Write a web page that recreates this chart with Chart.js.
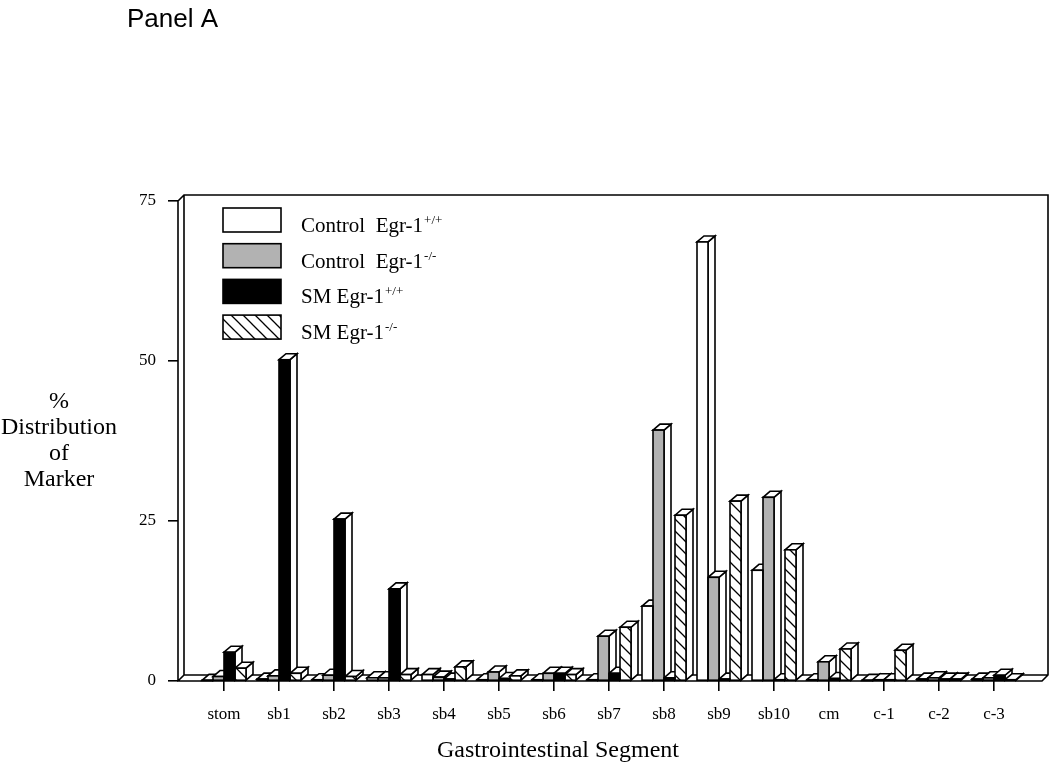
<!DOCTYPE html>
<html><head><meta charset="utf-8">
<script src="https://cdn.jsdelivr.net/npm/chart.js@4.4.1/dist/chart.umd.min.js"></script>
<style>html,body{margin:0;padding:0;background:#fff;}#wrap{width:1050px;height:767px;position:relative;}</style>
</head><body><div id="wrap"><canvas id="c" width="1050" height="767"></canvas></div>
<script>
// ---------- data ----------
const categories = ['stom','sb1','sb2','sb3','sb4','sb5','sb6','sb7','sb8','sb9','sb10','cm','c-1','c-2','c-3'];
const controlWT = [0.1, 0.3, 0.2, 0.5, 1.0, 0.2, 0.2, 0.2, 11.7, 68.6, 17.3, 0.2, 0.1, 0.3, 0.3];
const controlKO = [0.7, 0.8, 0.9, 0.5, 0.6, 1.4, 1.2, 7.0, 39.2, 16.2, 28.7, 3.0, 0.2, 0.5, 0.5];
const smWT      = [4.5, 50.2, 25.3, 14.4, 0.3, 0.4, 1.2, 1.2, 0.5, 0.3, 0.2, 0.4, 0.2, 0.3, 0.9];
const smKO      = [2.0, 1.2, 0.7, 1.0, 2.2, 0.8, 1.0, 8.4, 25.9, 28.1, 20.5, 5.0, 4.8, 0.3, 0.2];
const yTicks = [0, 25, 50, 75];
const seriesNames = ['Control  Egr-1', 'Control  Egr-1', 'SM Egr-1', 'SM Egr-1'];
const seriesSups = ['+/+', '-/-', '+/+', '-/-'];
const yTitleLines = ['%', 'Distribution', 'of', 'Marker'];
const xTitle = 'Gastrointestinal Segment';
const panelTitle = 'Panel A';

// ---------- styling ----------
const SERIF = '"Liberation Serif", "Times New Roman", serif';
const SANS = '"Liberation Sans", Arial, sans-serif';
const FDX = 6, FDY = 6;   // frame depth
const BDX = 7, BDY = 6;   // bar depth
const LW = 1.6;
const canvas = document.getElementById('c');
const mainCtx = canvas.getContext('2d');

function hatchPattern() {
  const s = 12;
  const c = document.createElement('canvas'); c.width = s; c.height = s;
  const g = c.getContext('2d');
  g.fillStyle = '#fff'; g.fillRect(0, 0, s, s);
  g.strokeStyle = '#000'; g.lineWidth = 1.3;
  g.beginPath();
  g.moveTo(-3, -3); g.lineTo(s + 3, s + 3);
  g.moveTo(-3, s - 3); g.lineTo(3, s + 3);
  g.moveTo(s - 3, -3); g.lineTo(s + 3, 3);
  g.stroke();
  return mainCtx.createPattern(c, 'repeat');
}
const fills = ['#ffffff', '#b2b2b2', '#000000', hatchPattern()];

const pts = arr => arr.map((v, i) => ({x: i, y: v}));
const series = [controlWT, controlKO, smWT, smKO];

const datasets = series.map((s, d) => ({
  label: seriesNames[d] + seriesSups[d],
  data: pts(s),
  backgroundColor: fills[d],
  borderColor: '#000',
  borderWidth: 0,
  inflateAmount: 0,
  categoryPercentage: 0.8,
  barPercentage: 1.0
}));

function barBox(chart, d, i) {
  const el = chart.getDatasetMeta(d).data[i];
  if (!el) return null;
  const {x, y, base, width} = el.getProps(['x', 'y', 'base', 'width'], true);
  return {l: x - width / 2, r: x + width / 2, y, base};
}

const threeD = {
  id: 'threeD',
  beforeDatasetsDraw(chart) {
    const {ctx, chartArea: a} = chart;
    ctx.save();
    ctx.strokeStyle = '#000'; ctx.lineWidth = LW; ctx.lineJoin = 'miter';
    ctx.beginPath();
    ctx.moveTo(a.left, a.top); ctx.lineTo(a.left, a.bottom); ctx.lineTo(a.right, a.bottom);
    ctx.lineTo(a.right + FDX, a.bottom - FDY); ctx.lineTo(a.right + FDX, a.top - FDY);
    ctx.lineTo(a.left + FDX, a.top - FDY); ctx.lineTo(a.left, a.top);
    ctx.moveTo(a.left + FDX, a.top - FDY); ctx.lineTo(a.left + FDX, a.bottom - FDY); ctx.lineTo(a.right + FDX, a.bottom - FDY);
    ctx.moveTo(a.left, a.bottom); ctx.lineTo(a.left + FDX, a.bottom - FDY);
    ctx.stroke();
    const n = chart.data.datasets.length;
    for (let i = 0; i < categories.length; i++) {
      for (let d = 0; d < n; d++) {
        const b = barBox(chart, d, i);
        if (!b) continue;
        ctx.fillStyle = '#fff';
        ctx.beginPath();
        ctx.moveTo(b.r, b.y); ctx.lineTo(b.r + BDX, b.y - BDY); ctx.lineTo(b.r + BDX, b.base - BDY); ctx.lineTo(b.r, b.base);
        ctx.closePath(); ctx.fill(); ctx.stroke();
        ctx.beginPath();
        ctx.moveTo(b.l, b.y); ctx.lineTo(b.l + BDX, b.y - BDY); ctx.lineTo(b.r + BDX, b.y - BDY); ctx.lineTo(b.r, b.y);
        ctx.closePath(); ctx.fill(); ctx.stroke();
      }
    }
    ctx.restore();
  },
  afterDatasetsDraw(chart) {
    const ctx = chart.ctx;
    ctx.save();
    ctx.strokeStyle = '#000'; ctx.lineWidth = LW;
    const n = chart.data.datasets.length;
    for (let i = 0; i < categories.length; i++) {
      for (let d = 0; d < n; d++) {
        const b = barBox(chart, d, i);
        if (!b) continue;
        ctx.strokeRect(b.l, b.y, b.r - b.l, b.base - b.y);
      }
    }
    ctx.restore();
  },
  afterDraw(chart) {
    const ctx = chart.ctx;
    ctx.save();
    ctx.fillStyle = '#000';
    // panel title
    ctx.font = '26px ' + SANS; ctx.textAlign = 'left'; ctx.textBaseline = 'alphabetic';
    ctx.fillText(panelTitle, 127, 27);
    // legend
    const bx = 223, bw = 58, bh = 24, by0 = 208, step = 35.7;
    chart.data.datasets.forEach((ds, d) => {
      const top = by0 + d * step;
      ctx.fillStyle = ds.backgroundColor;
      ctx.fillRect(bx, top, bw, bh);
      ctx.strokeStyle = '#000'; ctx.lineWidth = LW;
      ctx.strokeRect(bx, top, bw, bh);
      ctx.fillStyle = '#000';
      ctx.font = '21px ' + SERIF; ctx.textAlign = 'left';
      ctx.fillText(seriesNames[d], 301, top + bh);
      const w = ctx.measureText(seriesNames[d]).width;
      ctx.font = '13px ' + SERIF;
      ctx.fillText(seriesSups[d], 301 + w + 1, top + bh - 8);
    });
    // y title
    ctx.font = '24px ' + SERIF; ctx.textAlign = 'center';
    yTitleLines.forEach((t, k) => ctx.fillText(t, 59, 408 + k * 26));
    // x title
    ctx.fillText(xTitle, 558, 757);
    ctx.restore();
  }
};

Chart.defaults.color = '#000';
new Chart(canvas, {
  type: 'bar',
  data: {datasets},
  plugins: [threeD],
  options: {
    responsive: false,
    animation: false,
    events: [],
    devicePixelRatio: 1,
    layout: {padding: {top: 201, right: 8, left: 0, bottom: 0}},
    plugins: {legend: {display: false}, tooltip: {enabled: false}, title: {display: false}},
    scales: {
      x: {
        type: 'linear',
        offset: false,
        min: -46 / 55,
        max: (1042 - 224) / 55,
        afterBuildTicks: s => { s.ticks = categories.map((c, i) => ({value: i})); },
        afterFit: s => { s.height = 86; },
        ticks: {
          autoSkip: false, maxRotation: 0,
          callback: (v, i) => categories[i],
          font: {family: SERIF, size: 17}, color: '#000', padding: 13
        },
        grid: {offset: false, drawOnChartArea: false, drawTicks: true, tickLength: 10, color: '#000', lineWidth: LW},
        border: {display: false}
      },
      y: {
        type: 'linear',
        min: 0, max: 75,
        afterBuildTicks: s => { s.ticks = yTicks.map(v => ({value: v})); },
        afterFit: s => { s.width = 178; },
        ticks: {font: {family: SERIF, size: 17}, color: '#000', padding: 12},
        grid: {drawOnChartArea: false, drawTicks: true, tickLength: 10, color: '#000', lineWidth: LW},
        border: {display: false}
      }
    }
  }
});
</script>
</body></html>
